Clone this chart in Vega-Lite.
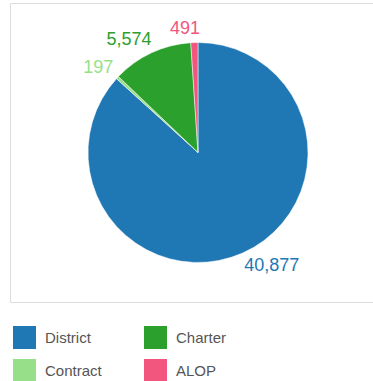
{
  "$schema": "https://vega.github.io/schema/vega-lite/v6.json",
  "width": 376,
  "height": 299,
  "autosize": "none",
  "padding": {"left": 10, "top": 3, "right": 0, "bottom": 79},
  "background": "white",
  "view": {"stroke": "#dddddd", "strokeWidth": 1},
  "config": {
    "font": "Liberation Sans"
  },
  "data": {
    "values": [
      {"category": "District", "count": 40877},
      {"category": "Contract", "count": 197},
      {"category": "Charter", "count": 5574},
      {"category": "ALOP", "count": 491}
    ]
  },
  "encoding": {
    "theta": {"field": "count", "type": "quantitative", "stack": true},
    "order": {"field": "category", "sort": "descending"},
    "color": {
      "field": "category",
      "type": "nominal",
      "scale": {
        "domain": ["District", "Contract", "Charter", "ALOP"],
        "range": ["#1f77b4", "#98df8a", "#2ca02c", "#f2557e"]
      },
      "legend": {
        "title": null,
        "orient": "none",
        "legendX": 3,
        "legendY": 323,
        "columns": 2,
        "symbolType": "square",
        "symbolSize": 529,
        "symbolStrokeWidth": 0,
        "symbolOpacity": 1,
        "labelFontSize": 15,
        "labelColor": "#555555",
        "labelFont": "Liberation Sans",
        "labelOffset": 9,
        "columnPadding": 42,
        "rowPadding": 10
      }
    }
  },
  "layer": [
    {"mark": {"type": "arc", "outerRadius": 110, "stroke": "white", "strokeWidth": 0.5}},
    {
      "mark": {
        "type": "text",
        "radius": 124,
        "fontSize": 18,
        "align": {"expr": "datum.category === 'District' ? 'left' : 'right'"},
        "dx": {"expr": "datum.category === 'District' ? -4 : 6"},
        "baseline": "middle"
      },
      "encoding": {"text": {"field": "count", "type": "quantitative", "format": ","}}
    }
  ]
}
